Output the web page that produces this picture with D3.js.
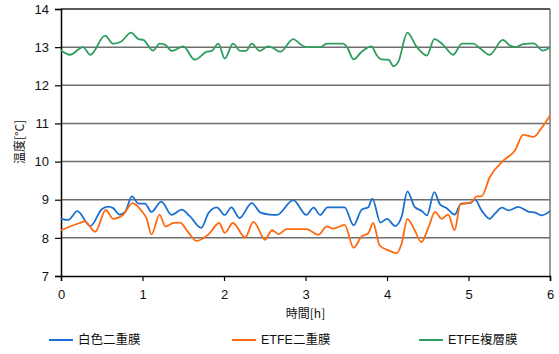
<!DOCTYPE html>
<html>
<head>
<meta charset="utf-8">
<script src="https://cdn.jsdelivr.net/npm/d3@7"></script>
<style>
  html, body { margin: 0; padding: 0; background: #fff; }
  svg { display: block; font-family: "Liberation Sans", Arial, "Noto Sans CJK JP", sans-serif; }
</style>
</head>
<body>
<svg id="chart" width="559" height="354"></svg>
<script>
// Temperature readings over six hours for three greenhouse film types
const whiteDoubleTime = [0, 0.09, 0.2, 0.36, 0.5, 0.58, 0.64, 0.72, 0.79, 0.87, 0.95, 1.03, 1.11, 1.23, 1.36, 1.48, 1.58, 1.72, 1.81, 1.91, 2.01, 2.09, 2.19, 2.34, 2.45, 2.56, 2.65, 2.85, 3.01, 3.1, 3.18, 3.27, 3.48, 3.59, 3.69, 3.77, 3.82, 3.92, 4.0, 4.1, 4.18, 4.25, 4.34, 4.43, 4.49, 4.58, 4.65, 4.73, 4.83, 4.91, 5.02, 5.08, 5.16, 5.26, 5.33, 5.41, 5.49, 5.61, 5.73, 5.82, 5.9, 6.0];
const whiteDoubleTemp = [8.5, 8.47, 8.7, 8.31, 8.75, 8.82, 8.78, 8.61, 8.69, 9.09, 8.9, 8.9, 8.68, 8.95, 8.6, 8.74, 8.57, 8.26, 8.65, 8.8, 8.6, 8.8, 8.52, 8.91, 8.66, 8.61, 8.6, 8.99, 8.6, 8.79, 8.6, 8.8, 8.8, 8.33, 8.74, 8.8, 9.03, 8.4, 8.5, 8.31, 8.56, 9.22, 8.81, 8.7, 8.59, 9.2, 8.88, 8.78, 8.61, 8.9, 8.91, 9.0, 8.72, 8.5, 8.65, 8.79, 8.72, 8.81, 8.69, 8.66, 8.59, 8.7];

const etfeDoubleTime = [0, 0.23, 0.29, 0.42, 0.55, 0.64, 0.76, 0.88, 0.99, 1.05, 1.11, 1.21, 1.28, 1.38, 1.46, 1.56, 1.66, 1.81, 1.94, 2.01, 2.11, 2.26, 2.36, 2.48, 2.5, 2.59, 2.67, 2.77, 3.01, 3.16, 3.26, 3.34, 3.48, 3.59, 3.69, 3.77, 3.83, 3.91, 4.02, 4.12, 4.18, 4.25, 4.34, 4.42, 4.51, 4.59, 4.67, 4.75, 4.83, 4.9, 4.98, 5.04, 5.1, 5.16, 5.26, 5.43, 5.57, 5.67, 5.8, 5.9, 6.0];
const etfeDoubleTemp = [8.2, 8.39, 8.43, 8.16, 8.73, 8.5, 8.6, 8.91, 8.7, 8.51, 8.09, 8.61, 8.3, 8.39, 8.4, 8.15, 7.92, 8.09, 8.39, 8.13, 8.39, 8.01, 8.42, 8.0, 7.95, 8.2, 8.1, 8.23, 8.23, 8.08, 8.3, 8.24, 8.34, 7.74, 8.04, 8.12, 8.39, 7.8, 7.67, 7.6, 7.85, 8.5, 8.2, 7.89, 8.28, 8.68, 8.5, 8.61, 8.2, 8.88, 8.91, 8.94, 9.09, 9.09, 9.59, 10.03, 10.29, 10.7, 10.65, 10.89, 11.2];

const etfeMultiTime = [0, 0.11, 0.27, 0.36, 0.54, 0.64, 0.74, 0.86, 0.95, 1.01, 1.13, 1.21, 1.28, 1.36, 1.5, 1.64, 1.79, 1.85, 1.93, 2.01, 2.11, 2.2, 2.27, 2.34, 2.44, 2.54, 2.6, 2.69, 2.85, 2.93, 3.01, 3.18, 3.26, 3.46, 3.51, 3.59, 3.69, 3.81, 3.87, 3.93, 4.02, 4.08, 4.14, 4.25, 4.36, 4.49, 4.58, 4.69, 4.81, 4.92, 5.06, 5.14, 5.26, 5.42, 5.51, 5.58, 5.67, 5.8, 5.91, 6.0];
const etfeMultiTemp = [12.92, 12.8, 13.0, 12.8, 13.3, 13.09, 13.15, 13.38, 13.21, 13.19, 12.91, 13.09, 13.06, 12.9, 13.02, 12.67, 12.88, 12.9, 13.09, 12.7, 13.09, 12.9, 12.9, 13.09, 12.9, 13.02, 12.98, 12.88, 13.21, 13.09, 13.0, 13.0, 13.09, 13.09, 13.0, 12.68, 12.88, 13.02, 12.8, 12.68, 12.67, 12.5, 12.62, 13.38, 13.02, 12.78, 13.21, 13.06, 12.8, 13.09, 13.09, 12.97, 12.8, 13.19, 13.04, 13.0, 13.08, 13.1, 12.91, 13.0];

const seriesNames = ["白色二重膜", "ETFE二重膜", "ETFE複層膜"];
const seriesColors = ["#1a6fd0", "#ff6a10", "#2e9e5e"];
const xTicks = [0, 1, 2, 3, 4, 5, 6];
const yTicks = [7, 8, 9, 10, 11, 12, 13, 14];
const xTitle = "時間[h]";
const yTitle = "温度[°C]";

const series = [
  { name: seriesNames[0], color: seriesColors[0], t: whiteDoubleTime, v: whiteDoubleTemp },
  { name: seriesNames[1], color: seriesColors[1], t: etfeDoubleTime, v: etfeDoubleTemp },
  { name: seriesNames[2], color: seriesColors[2], t: etfeMultiTime, v: etfeMultiTemp }
];

const svg = d3.select("#chart");
const plot = { left: 61, right: 550, top: 9, bottom: 276 };

const x = d3.scaleLinear().domain([0, 6]).range([plot.left, plot.right]);
const y = d3.scaleLinear().domain([7, 14]).range([plot.bottom, plot.top]);

// horizontal gridlines
svg.append("g")
  .selectAll("line")
  .data(yTicks.filter(d => d > 7 && d < 14))
  .join("line")
  .attr("x1", plot.left).attr("x2", plot.right)
  .attr("y1", d => y(d)).attr("y2", d => y(d))
  .attr("stroke", "#6e6e6e").attr("stroke-width", 1.5);

// top and right frame
svg.append("line")
  .attr("x1", plot.left).attr("x2", plot.right)
  .attr("y1", y(14)).attr("y2", y(14))
  .attr("stroke", "#222").attr("stroke-width", 1.5);
svg.append("line")
  .attr("x1", plot.right).attr("x2", plot.right)
  .attr("y1", plot.top).attr("y2", plot.bottom)
  .attr("stroke", "#777").attr("stroke-width", 1.5);

// axes
const yAxis = svg.append("g")
  .attr("transform", `translate(${plot.left},0)`)
  .call(d3.axisLeft(y).tickValues(yTicks).tickFormat(d3.format("d")).tickSize(6).tickPadding(6));
const xAxis = svg.append("g")
  .attr("transform", `translate(0,${plot.bottom})`)
  .call(d3.axisBottom(x).tickValues(xTicks).tickFormat(d3.format("d")).tickSize(5).tickPadding(9));

[yAxis, xAxis].forEach(g => {
  g.select(".domain").attr("stroke", "#000").attr("stroke-width", 1.5);
  g.selectAll(".tick line").attr("stroke", "#000").attr("stroke-width", 1.2);
  g.selectAll(".tick text")
    .attr("fill", "#111")
    .style("font-size", "13px")
    .style("font-family", "'Liberation Sans', Arial, sans-serif");
});

// series lines
const line = d3.line()
  .x(d => x(d[0]))
  .y(d => y(d[1]))
  .curve(d3.curveMonotoneX);

series.forEach(s => {
  const pts = s.t.map((t, i) => [t, s.v[i]]);
  svg.append("path")
    .datum(pts)
    .attr("d", line)
    .attr("fill", "none")
    .attr("stroke", s.color)
    .attr("stroke-width", 1.8)
    .attr("stroke-linejoin", "round");
});

// axis titles
svg.append("text")
  .attr("x", (plot.left + plot.right) / 2)
  .attr("y", 318)
  .attr("text-anchor", "middle")
  .style("font-size", "12px")
  .style("font-family", "'Noto Sans CJK JP', sans-serif")
  .attr("fill", "#111")
  .text(xTitle);

svg.append("text")
  .attr("transform", `translate(24,142) rotate(-90)`)
  .attr("text-anchor", "middle")
  .style("font-size", "12px")
  .style("font-family", "'Noto Sans CJK JP', sans-serif")
  .attr("fill", "#111")
  .text(yTitle);

// legend
const legendX = [49, 232, 419];
const legend = svg.append("g");
series.forEach((s, i) => {
  const g = legend.append("g").attr("transform", `translate(${legendX[i]},340)`);
  g.append("line")
    .attr("x1", 0).attr("x2", 24).attr("y1", 0).attr("y2", 0)
    .attr("stroke", s.color).attr("stroke-width", 2);
  g.append("text")
    .attr("x", 29).attr("y", 0)
    .attr("dy", "0.35em")
    .style("font-size", "12.5px")
    .style("font-family", "'Liberation Sans', 'Noto Sans CJK JP', sans-serif")
    .attr("fill", "#111")
    .text(s.name);
});
</script>
</body>
</html>
